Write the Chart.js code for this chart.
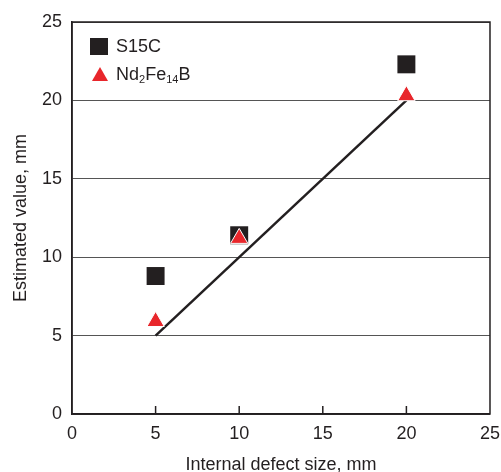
<!DOCTYPE html>
<html lang="en">
<head>
<meta charset="UTF-8">
<title>Estimated value vs internal defect size</title>
<script src="https://cdn.jsdelivr.net/npm/chart.js"></script>
<style>
  html, body { margin: 0; padding: 0; background: #fff; }
  .wrap { position: relative; width: 501px; height: 472px; }
  .legend {
    position: absolute; left: 90px; top: 32px;
    font-family: "Liberation Sans", Arial, sans-serif; font-size: 18px; color: #231f20;
  }
  .item { display: flex; align-items: center; height: 28px; }
  .sq { width: 18px; height: 17px; background: #231f20; margin-right: 8px; }
  .tri {
    width: 0; height: 0; margin: 0 8px 0 2px;
    border-left: 8px solid transparent; border-right: 8px solid transparent;
    border-bottom: 14px solid #e8262b;
  }
  sub { font-size: 11px; vertical-align: -3px; line-height: 0; }
</style>
</head>
<body>
<div class="wrap">
  <canvas id="chart" width="501" height="472"></canvas>
  <div class="legend">
    <div class="item"><span class="sq"></span><span>S15C</span></div>
    <div class="item"><span class="tri"></span><span>Nd<sub>2</sub>Fe<sub>14</sub>B</span></div>
  </div>
</div>

<script>
// values
const defectSize = [5, 10, 20];
const s15cValues = [8.8, 11.4, 22.3];
const ndfebValues = [5.9, 11.2, 20.3];
const fitLineX = [5, 20];
const fitLineY = [5, 20];
const axisMin = 0, axisMax = 25, axisStep = 5;

const ink = "#231f20";
const font = "'Liberation Sans', Arial, sans-serif";

function toPoints(xs, ys) {
  return xs.map((x, i) => ({ x: x, y: ys[i] }));
}

// box round the plot and the short inward ticks on the x axis
const framePlugin = {
  id: "frame",
  afterDraw(chart) {
    const ctx = chart.ctx, a = chart.chartArea, x = chart.scales.x;
    ctx.save();
    ctx.strokeStyle = ink;
    ctx.lineWidth = 1.5;
    ctx.strokeRect(a.left, a.top, a.right - a.left, a.bottom - a.top);
    x.ticks.forEach(t => {
      if (t.value <= x.min || t.value >= x.max) return;
      const px = x.getPixelForValue(t.value);
      ctx.beginPath();
      ctx.moveTo(px, a.bottom);
      ctx.lineTo(px, a.bottom - 8);
      ctx.stroke();
    });
    ctx.restore();
  }
};

new Chart(document.getElementById("chart"), {
  type: "scatter",
  data: {
    datasets: [
      {
        label: "Nd2Fe14B",
        data: toPoints(defectSize, ndfebValues),
        pointStyle: "triangle",
        pointRadius: 10,
        backgroundColor: "#e8262b",
        borderColor: "#ffffff",
        borderWidth: 1,
        order: 0
      },
      {
        label: "S15C",
        data: toPoints(defectSize, s15cValues),
        pointStyle: "rect",
        pointRadius: 12.7,
        backgroundColor: ink,
        borderColor: ink,
        borderWidth: 0,
        order: 1
      },
      {
        label: "fit",
        type: "line",
        data: toPoints(fitLineX, fitLineY),
        borderColor: ink,
        borderWidth: 2.5,
        pointRadius: 0,
        fill: false,
        order: 2
      }
    ]
  },
  options: {
    responsive: false,
    animation: false,
    layout: { autoPadding: false, padding: { left: 8, top: 22, right: 10, bottom: 0 } },
    plugins: {
      legend: { display: false },
      tooltip: { enabled: false }
    },
    scales: {
      x: {
        type: "linear",
        min: axisMin, max: axisMax,
        ticks: { stepSize: axisStep, color: ink, font: { family: font, size: 18 }, padding: 1 },
        grid: { display: false },
        border: { color: ink, width: 1.5 },
        title: { display: true, text: "Internal defect size, mm", color: ink, font: { family: font, size: 18 }, padding: { top: 4, bottom: -4 } },
        afterFit: s => { s.height = 58; }
      },
      y: {
        type: "linear",
        min: axisMin, max: axisMax,
        ticks: { stepSize: axisStep, color: ink, font: { family: font, size: 18 }, padding: 10 },
        grid: { color: "#555555", lineWidth: 1, drawTicks: false },
        border: { color: ink, width: 1.5 },
        title: { display: true, text: "Estimated value, mm", color: ink, font: { family: font, size: 18 }, padding: { top: 2, bottom: 0 } },
        afterFit: s => { s.width = 64; }
      }
    }
  },
  plugins: [framePlugin]
});
</script>
</body>
</html>
